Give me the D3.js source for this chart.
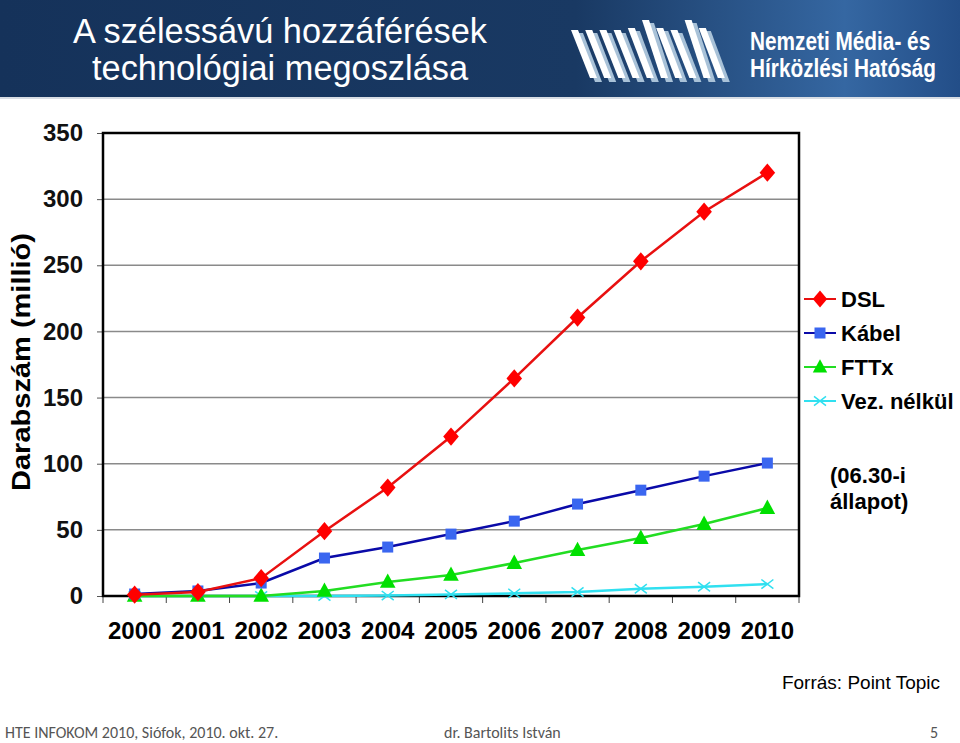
<!DOCTYPE html>
<html><head><meta charset="utf-8">
<script src="https://cdn.jsdelivr.net/npm/d3@7"></script>
<style>body{margin:0;background:#fff;}svg{display:block;}</style>
</head><body>
<script>
const years = ["2000","2001","2002","2003","2004","2005","2006","2007","2008","2009","2010"];
const dsl   = [1, 3, 13.5, 49, 82, 120.5, 164.5, 210.5, 253, 290.5, 320];
const kabel = [1.5, 3.8, 9.8, 28.7, 37, 46.8, 56.6, 69.5, 80, 90.6, 100.5];
const fttx  = [0, 0, 0, 3.8, 10.6, 15.9, 24.9, 34.7, 43.8, 54.4, 66.5];
const vez   = [0, 0, 0, 0, 0.3, 1.2, 2, 3, 5.5, 7, 9];
const yTicks = [0, 50, 100, 150, 200, 250, 300, 350];
const seriesNames = ["DSL", "Kábel", "FTTx", "Vez. nélkül"];
const titleLines = ["A szélessávú hozzáférések", "technológiai megoszlása"];
const logoLines = ["Nemzeti Média- és", "Hírközlési Hatóság"];

(function(){
const W = 960, H = 743;
const svg = d3.select("body").append("svg").attr("width", W).attr("height", H);

// header
const defs = svg.append("defs");
const g = defs.append("linearGradient").attr("id","hdr").attr("x1","0").attr("x2","1");
[[0,"#15325a"],[0.6,"#193963"],[0.88,"#3567a2"],[1,"#234e88"]].forEach(([o,c])=>g.append("stop").attr("offset",o).attr("stop-color",c));
svg.append("rect").attr("x",0).attr("y",0).attr("width",W).attr("height",97).attr("fill","url(#hdr)");
svg.append("rect").attr("x",0).attr("y",97).attr("width",W).attr("height",2).attr("fill","#d8dde4");

svg.selectAll("text.title").data(titleLines).join("text")
  .attr("x", 280).attr("y",(d,i)=>43+i*37).attr("text-anchor","middle")
  .attr("font-family","Liberation Sans, Arial, sans-serif").attr("font-size",35)
  .attr("textLength",(d,i)=>i?376:414).attr("lengthAdjust","spacingAndGlyphs")
  .attr("fill","#fff").text(d=>d);

// logo stripes
const stripeTops = [30,30,30,30,28,20,28,30,20,28];
const lg = svg.append("g");
stripeTops.forEach((t,i)=>{
  const x0 = 571 + i*14.2;
  lg.append("path").attr("d",`M${x0+5},${t+3} L${x0+12},${t+3} L${x0+31},82 L${x0+24},82 Z`).attr("fill","#a9c2d8");
  lg.append("path").attr("d",`M${x0},${t} L${x0+7},${t} L${x0+26},78 L${x0+19},78 Z`).attr("fill","#ffffff");
});
const lt = svg.append("g").attr("transform","translate(750,0) scale(0.8,1)");
lt.selectAll("text").data(logoLines).join("text")
  .attr("x",0).attr("y",(d,i)=>50+i*27)
  .attr("font-family","Liberation Sans, Arial, sans-serif").attr("font-weight","bold")
  .attr("font-size",26).attr("fill","#fff").text(d=>d);

// chart
const pL = 103, pR = 799, pT = 133, pB = 596;
const x = d3.scaleBand().domain(years).range([pL,pR]);
const y = d3.scaleLinear().domain([0,350]).range([pB,pT]);
const cx = d => x(d) + x.bandwidth()/2;

svg.append("g").selectAll("line").data(yTicks.filter(v=>v>0&&v<350)).join("line")
  .attr("x1",pL).attr("x2",pR).attr("y1",d=>y(d)).attr("y2",d=>y(d))
  .attr("stroke","#8a8a8a").attr("stroke-width",1.5);

// y axis
const ya = svg.append("g").attr("transform",`translate(${pL},0)`)
  .call(d3.axisLeft(y).tickValues(yTicks).tickSize(6).tickPadding(14));
ya.select(".domain").remove();
ya.selectAll("line").attr("stroke","#555");
ya.selectAll("text").attr("font-family","Liberation Sans, Arial, sans-serif").attr("font-size",24).attr("font-weight","bold").attr("fill","#111");

// x axis
const xa = svg.append("g").attr("transform",`translate(0,${pB})`)
  .call(d3.axisBottom(x).tickSize(0).tickPadding(26));
xa.select(".domain").remove();
xa.selectAll("text").attr("font-family","Liberation Sans, Arial, sans-serif").attr("font-size",24).attr("font-weight","bold").attr("fill","#000");
svg.append("g").selectAll("line").data(d3.range(years.length+1)).join("line")
  .attr("x1",i=>pL+i*x.step()).attr("x2",i=>pL+i*x.step())
  .attr("y1",pB).attr("y2",pB+7).attr("stroke","#444").attr("stroke-width",1);

// frame
svg.append("rect").attr("x",pL).attr("y",pT).attr("width",pR-pL).attr("height",pB-pT)
  .attr("fill","none").attr("stroke","#000").attr("stroke-width",2.5);

const series = [
  {name:seriesNames[0], vals:dsl, line:"#e81010", fill:"#ff0000", sym:"diamond"},
  {name:seriesNames[1], vals:kabel, line:"#0a0aa8", fill:"#3a66f0", sym:"square"},
  {name:seriesNames[2], vals:fttx, line:"#22dd22", fill:"#00e000", sym:"triangle"},
  {name:seriesNames[3], vals:vez, line:"#30e0f0", fill:"#30e0f0", sym:"x"}
];
function drawMarker(sel, s, px, py, sz){
  if(s.sym==="diamond") sel.append("path").attr("d",`M${px},${py-sz*0.7} L${px+sz*0.6},${py} L${px},${py+sz*0.7} L${px-sz*0.6},${py} Z`).attr("fill",s.fill);
  else if(s.sym==="square") sel.append("rect").attr("x",px-sz/2).attr("y",py-sz/2).attr("width",sz).attr("height",sz).attr("fill",s.fill);
  else if(s.sym==="triangle") sel.append("path").attr("d",`M${px},${py-sz*0.65} L${px+sz*0.6},${py+sz*0.45} L${px-sz*0.6},${py+sz*0.45} Z`).attr("fill",s.fill);
  else sel.append("path").attr("d",`M${px-sz/2},${py-sz/2.6} L${px+sz/2},${py+sz/2.6} M${px-sz/2},${py+sz/2.6} L${px+sz/2},${py-sz/2.6}`).attr("stroke",s.fill).attr("stroke-width",1.5).attr("fill","none");
}
const line = d3.line().x((d,i)=>cx(years[i])).y(d=>y(d));
const order = [3,2,1,0];
order.forEach(k=>{
  const s = series[k];
  const gg = svg.append("g");
  gg.append("path").attr("d",line(s.vals)).attr("fill","none").attr("stroke",s.line).attr("stroke-width",2.5);
  s.vals.forEach((v,i)=>drawMarker(gg,s,cx(years[i]),y(v),s.sym==="x"?12:(s.sym==="square"?11:13)));
});

// legend
const leg = svg.append("g");
series.forEach((s,i)=>{
  const ly = 299 + i*34;
  leg.append("line").attr("x1",804).attr("x2",836).attr("y1",ly).attr("y2",ly).attr("stroke",s.line).attr("stroke-width",2);
  drawMarker(leg,s,820,ly,s.sym==="x"?12:(s.sym==="square"?11:12));
  leg.append("text").attr("x",841).attr("y",ly+8).attr("font-family","Liberation Sans, Arial, sans-serif")
    .attr("font-weight","bold").attr("font-size",22).attr("fill","#000").text(s.name);
});
["(06.30-i","állapot)"].forEach((t,i)=>svg.append("text").attr("x",830).attr("y",483+i*26)
  .attr("font-family","Liberation Sans, Arial, sans-serif").attr("font-weight","bold").attr("font-size",22).text(t));

// y title
svg.append("text").attr("transform","translate(30,362) rotate(-90)").attr("text-anchor","middle")
  .attr("font-family","Liberation Sans, Arial, sans-serif").attr("font-weight","bold").attr("font-size",26)
  .attr("textLength",258).attr("lengthAdjust","spacingAndGlyphs").text("Darabszám (millió)");

svg.append("text").attr("x",940).attr("y",689).attr("text-anchor","end")
  .attr("font-family","Liberation Sans, Arial, sans-serif").attr("font-size",19).text("Forrás: Point Topic");

// footer
const ff = "Carlito, Open Sans, sans-serif";
svg.append("text").attr("x",5).attr("y",738).attr("font-family",ff).attr("font-size",16).attr("fill","#555").text("HTE INFOKOM 2010, Siófok, 2010. okt. 27.");
svg.append("text").attr("x",444).attr("y",738).attr("font-family",ff).attr("font-size",16).attr("fill","#555").text("dr. Bartolits István");
svg.append("text").attr("x",930).attr("y",738).attr("font-family",ff).attr("font-size",16).attr("fill","#555").text("5");
})();
</script>
</body></html>
